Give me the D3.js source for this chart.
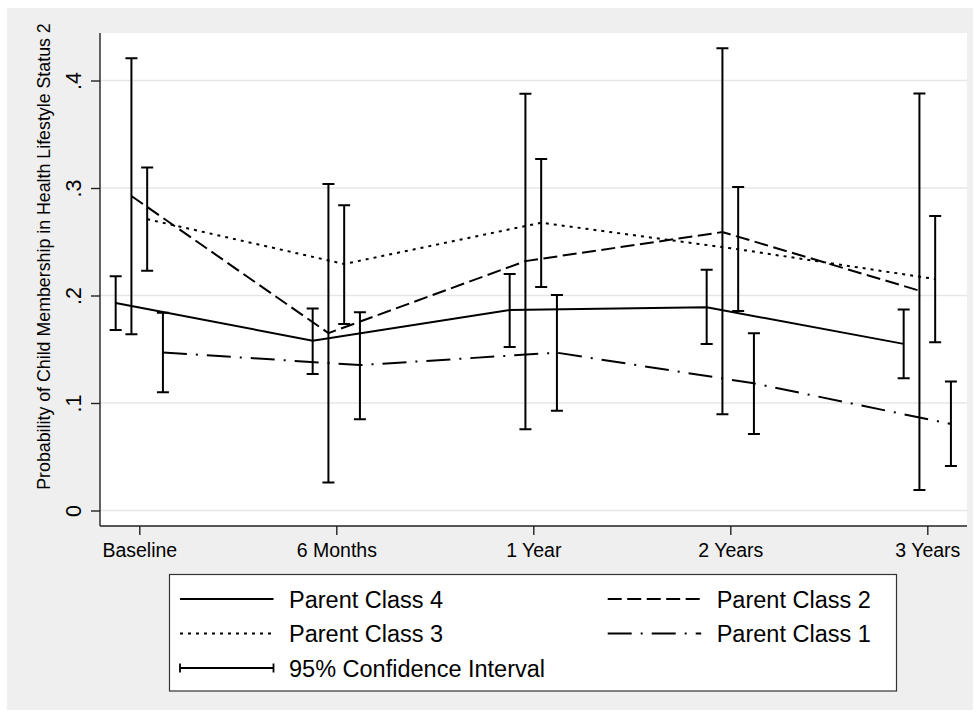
<!DOCTYPE html>
<html>
<head>
<meta charset="utf-8">
<script src="https://cdn.jsdelivr.net/npm/d3@7"></script>
<style>
  html, body { margin: 0; padding: 0; background: #ffffff; }
  svg { display: block; }
  text { font-family: "Liberation Sans", Arial, Helvetica, sans-serif; fill: #000; }
</style>
</head>
<body>
<svg id="chart" width="980" height="717"></svg>
<script>
// ---------------- DATA ----------------
const categories = ["Baseline", "6 Months", "1 Year", "2 Years", "3 Years"];
const seriesNames = ["Parent Class 4", "Parent Class 2", "Parent Class 3", "Parent Class 1"];

const class4   = [0.193, 0.158, 0.1865, 0.189, 0.155];
const class4Lo = [0.168, 0.127, 0.152, 0.155, 0.123];
const class4Hi = [0.218, 0.188, 0.220, 0.224, 0.187];

const class2   = [0.2926, 0.165, 0.232, 0.259, 0.2045];
const class2Lo = [0.164, 0.026, 0.0755, 0.0895, 0.019];
const class2Hi = [0.4206, 0.3037, 0.3877, 0.430, 0.388];

const class3   = [0.271, 0.2293, 0.2677, 0.243, 0.2153];
const class3Lo = [0.223, 0.1735, 0.208, 0.1856, 0.1565];
const class3Hi = [0.319, 0.284, 0.327, 0.301, 0.274];

const class1   = [0.147, 0.1353, 0.1468, 0.1183, 0.0805];
const class1Lo = [0.110, 0.085, 0.0928, 0.0712, 0.0414];
const class1Hi = [0.184, 0.1844, 0.2005, 0.165, 0.120];

const yTicks = [0, 0.1, 0.2, 0.3, 0.4];
const yTickLabels = ["0", ".1", ".2", ".3", ".4"];
const yTitle = "Probability of Child Membership in Health Lifestyle Status 2";
const ciLabel = "95% Confidence Interval";

// ---------------- STYLE ----------------
const dashes = {
  "Parent Class 4": null,
  "Parent Class 2": "14,5.5",
  "Parent Class 3": "3,5",
  "Parent Class 1": "24,9,2,9"
};
const seriesData = [
  { name: "Parent Class 4", v: class4, lo: class4Lo, hi: class4Hi },
  { name: "Parent Class 2", v: class2, lo: class2Lo, hi: class2Hi },
  { name: "Parent Class 3", v: class3, lo: class3Lo, hi: class3Hi },
  { name: "Parent Class 1", v: class1, lo: class1Lo, hi: class1Hi }
];

const svg = d3.select("#chart");
const font = '"Liberation Sans", Arial, Helvetica, sans-serif';

// outer background
svg.append("rect").attr("x", 7).attr("y", 8).attr("width", 966).attr("height", 702).attr("fill", "#efefef");

// plot region
const plot = { left: 100, right: 967, top: 33, bottom: 526 };
svg.append("rect").attr("x", plot.left).attr("y", plot.top)
  .attr("width", plot.right - plot.left).attr("height", plot.bottom - plot.top).attr("fill", "#fff");

const x = d3.scalePoint().domain(categories).range([139.3, 927.3]);
const xOff = d3.scaleBand().domain(seriesNames).range([-31.5, 31.5]);
const y = d3.scaleLinear().domain([0, 0.4]).range([510.5, 80.5]);
const px = (cat, s) => x(cat) + xOff(s) + xOff.bandwidth() / 2;

// gridlines
svg.append("g").selectAll("line").data(yTicks).join("line")
  .attr("x1", plot.left).attr("x2", plot.right)
  .attr("y1", d => y(d)).attr("y2", d => y(d))
  .attr("stroke", "#e6e6e6").attr("stroke-width", 1.6);

// axes
const yAxis = d3.axisLeft(y).tickValues(yTicks)
  .tickFormat((d, i) => yTickLabels[i]).tickSize(9).tickPadding(10);
const gy = svg.append("g").attr("transform", `translate(${plot.left},0)`).call(yAxis);
gy.select(".domain").attr("d", `M0,${plot.top}V${plot.bottom}`).attr("stroke", "#222").attr("stroke-width", 1.4);
gy.selectAll(".tick line").attr("stroke", "#222").attr("stroke-width", 1.4);
gy.selectAll(".tick text")
  .attr("x", 0).attr("y", -19.5).attr("dy", 0)
  .attr("transform", "rotate(-90)")
  .attr("text-anchor", "middle")
  .style("font-family", font).style("font-size", "21.5px").attr("fill", "#000");

const xAxis = d3.axisBottom(x).tickSize(9).tickPadding(6);
const gx = svg.append("g").attr("transform", `translate(0,${plot.bottom})`).call(xAxis);
gx.select(".domain").attr("d", `M${plot.left},0H${plot.right}`).attr("stroke", "#222").attr("stroke-width", 1.4);
gx.selectAll(".tick line").attr("stroke", "#222").attr("stroke-width", 1.4);
gx.selectAll(".tick text").attr("dy", 0).attr("y", 31)
  .style("font-family", font).style("font-size", "19.5px").attr("fill", "#000");

// y title
svg.append("text")
  .attr("transform", "translate(49.5,256.5) rotate(-90)")
  .attr("text-anchor", "middle")
  .style("font-size", "17.8px")
  .text(yTitle);

// CI bars
const capW = 6;
const ciG = svg.append("g").attr("stroke", "#000").attr("stroke-width", 2).attr("fill", "none");
seriesData.forEach(s => {
  categories.forEach((c, i) => {
    const cx = px(c, s.name);
    const yl = y(s.lo[i]), yh = y(s.hi[i]);
    ciG.append("path")
      .attr("d", `M${cx},${yl}V${yh}M${cx - capW},${yh}H${cx + capW}M${cx - capW},${yl}H${cx + capW}`);
  });
});

// series lines
const line = d3.line().x(d => d[0]).y(d => d[1]);
seriesData.forEach(s => {
  const pts = categories.map((c, i) => [px(c, s.name), y(s.v[i])]);
  svg.append("path").attr("d", line(pts))
    .attr("fill", "none").attr("stroke", "#000").attr("stroke-width", 2)
    .attr("stroke-dasharray", dashes[s.name]);
});

// legend
const lg = svg.append("g");
lg.append("rect").attr("x", 169.5).attr("y", 574.5).attr("width", 727).attr("height", 116.5)
  .attr("fill", "#fff").attr("stroke", "#333").attr("stroke-width", 1.2);

const legendItems = [
  { name: "Parent Class 4", col: 0, row: 0 },
  { name: "Parent Class 2", col: 1, row: 0 },
  { name: "Parent Class 3", col: 0, row: 1 },
  { name: "Parent Class 1", col: 1, row: 1 }
];
const colX = [180, 607.7];
const rowY = [599, 633.5, 668];
const symLen = 93.5;
legendItems.forEach(it => {
  const x0 = colX[it.col], yy = rowY[it.row];
  lg.append("line").attr("x1", x0).attr("x2", x0 + symLen).attr("y1", yy).attr("y2", yy)
    .attr("stroke", "#000").attr("stroke-width", 2).attr("stroke-dasharray", dashes[it.name]);
  lg.append("text").attr("x", x0 + symLen + 15.5).attr("y", yy + 8.5)
    .style("font-size", "23.5px").text(it.name);
});
// CI legend
{
  const x0 = colX[0], yy = rowY[2];
  lg.append("path")
    .attr("d", `M${x0},${yy}H${x0 + symLen}M${x0},${yy - 4.5}V${yy + 4.5}M${x0 + symLen},${yy - 4.5}V${yy + 4.5}`)
    .attr("stroke", "#000").attr("stroke-width", 1.8).attr("fill", "none");
  lg.append("text").attr("x", x0 + symLen + 15.5).attr("y", yy + 8.5)
    .style("font-size", "23.5px").text(ciLabel);
}
</script>
</body>
</html>
